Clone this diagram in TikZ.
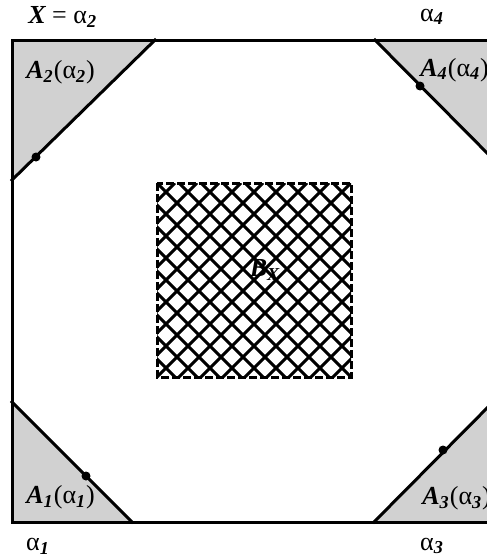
\documentclass[tikz,border=0pt]{standalone}
\usepackage{fontspec}
\setmainfont{Liberation Serif}
\usetikzlibrary{positioning}

\newcommand{\idx}[1]{\textsubscript{\bfseries\itshape #1}}
\newcommand{\cornerset}[1]{{\bfseries\itshape A}\idx{#1}(α\idx{#1})}

\begin{document}
\begin{tikzpicture}[x=0.5pt, y=-0.5pt,
  % one pixel of the sketch is half a point; y runs downwards like the sketch
  edge/.style   = {line width=1.5pt, line cap=rect},
  corner/.style = {fill=black!18, draw=none},
  knot/.style   = {circle, fill=black, inner sep=0pt, minimum size=4.5pt},
  tag/.style    = {font=\fontsize{13}{15}\selectfont, inner sep=1pt},
  hatch/.style  = {line width=1.5pt},
  rim/.style    = {line width=1.5pt, dash pattern=on 4pt off 1.5pt},
]
% the right side of the frame runs off the page
\clip (0,0) rectangle (487,557);

% ------------------------------------------------------------ frame corners --
\coordinate (nw) at (12,40);
\coordinate (ne) at (494,40);
\coordinate (sw) at (12,522);
\coordinate (se) at (494,522);

% ------------------------------------------------------------ corner pieces --
\coordinate (c2a) at (155,40);  \coordinate (c2b) at (12,180);
\coordinate (c4a) at (375,40);  \coordinate (c4b) at (494,160);
\coordinate (c1a) at (12,402);  \coordinate (c1b) at (132,522);
\coordinate (c3a) at (374,522); \coordinate (c3b) at (494,401);

\fill[corner] (nw) -- (c2a) -- (c2b) -- cycle;
\fill[corner] (ne) -- (c4a) -- (c4b) -- cycle;
\fill[corner] (sw) -- (c1a) -- (c1b) -- cycle;
\fill[corner] (se) -- (c3a) -- (c3b) -- cycle;

\draw[edge] (c2a) -- (c2b);
\draw[edge] (c4a) -- (c4b);
\draw[edge] (c1a) -- (c1b);
\draw[edge] (c3a) -- (c3b);

\draw[edge] (nw) rectangle (se);

\node[knot] (k2) at (36,157) {};
\node[knot] (k4) at (420,86) {};
\node[knot] (k1) at (86,476) {};
\node[knot] (k3) at (443,450) {};

% ------------------------------------------------------------- hatched core --
\begin{scope}
  \clip (157,183) rectangle (351,377);
  \foreach \k in {-220,-198,...,220} {
    \draw[hatch] (157+\k,183) -- ++(194,194);
    \draw[hatch] (157+\k,377) -- ++(194,-194);
  }
\end{scope}
\draw[rim] (157,183) rectangle (351,377);

% ------------------------------------------------------------------- labels --
\node[tag] (bx) at (265,270) {\bfseries\itshape B\textsubscript{X}};

\node[tag, anchor=west] (lx)  at (26,17)  {{\bfseries\itshape X} = α\idx{2}};
\node[tag]              (l4)  at (432,17) {α\idx{4}};
\node[tag]              (l1)  at (38,546) {α\idx{1}};
\node[tag]              (l3)  at (432,546) {α\idx{3}};

\node[tag, anchor=west] (a2) at (24,72)  {\cornerset{2}};
\node[tag, anchor=west] (a4) at (418,70) {\cornerset{4}};
\node[tag, anchor=west] (a1) at (24,497) {\cornerset{1}};
\node[tag, anchor=west] (a3) at (420,498) {\cornerset{3}};

\end{tikzpicture}
\end{document}
